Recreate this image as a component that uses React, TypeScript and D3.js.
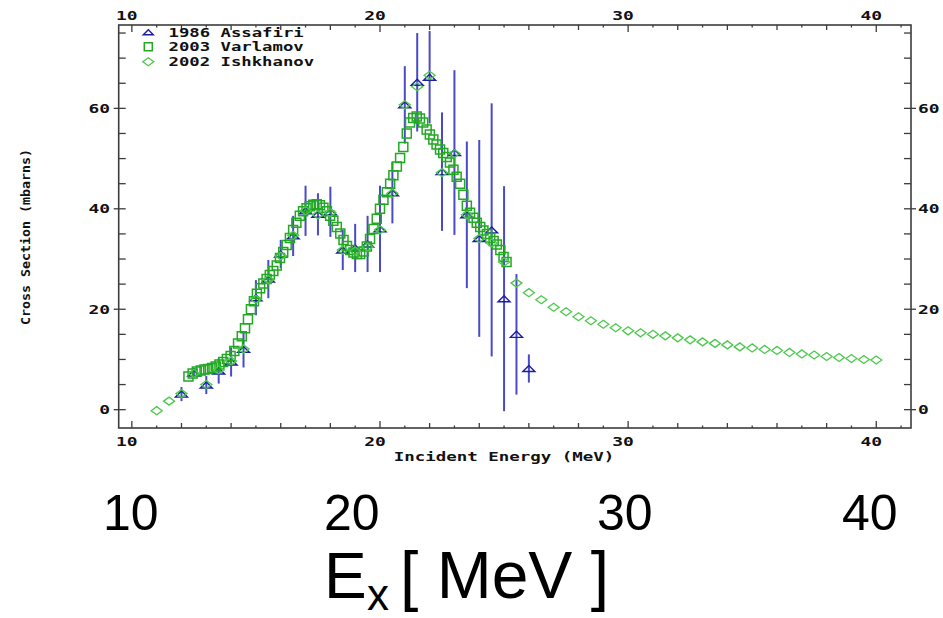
import React from "react";
import * as d3 from "d3";

// ---- data -------------------------------------------------------------
// 1986 Assafiri: energy (MeV), cross section (mb), symmetric error (mb)
const assafiriE = [12.0, 12.5, 13.0, 13.5, 14.0, 14.5, 15.0, 15.5, 16.0, 16.5, 17.0, 17.5, 18.0, 18.5, 19.0, 19.5, 20.0, 20.5, 21.0, 21.5, 22.0, 22.5, 23.0, 23.5, 24.0, 24.5, 25.0, 25.5, 26.0];
const assafiriXS = [3.1, 7.3, 4.9, 7.7, 9.5, 12.0, 22.3, 26.0, 31.0, 34.6, 39.6, 38.9, 39.4, 31.8, 32.2, 33.0, 36.0, 43.2, 60.7, 65.2, 66.2, 47.4, 51.2, 38.8, 34.1, 35.8, 22.1, 15.0, 8.2];
const assafiriErr = [1.4, 1.0, 1.8, 2.5, 2.9, 3.6, 3.5, 3.8, 2.8, 4.0, 5.0, 4.2, 5.0, 4.0, 4.8, 5.6, 8.6, 6.1, 7.7, 9.8, 9.2, 11.8, 16.4, 14.6, 19.6, 25.2, 22.4, 12.0, 2.8];

// 2003 Varlamov: [energy, cross section]
const varlamov: [number, number][] = [
  [12.28, 6.6], [12.45, 7.2], [12.62, 7.6], [12.78, 7.8], [12.93, 8.0], [13.08, 8.1],
  [13.23, 8.3], [13.38, 8.6], [13.53, 9.0], [13.68, 9.5], [13.83, 10.1], [13.98, 10.7],
  [14.13, 11.7], [14.28, 13.2], [14.43, 14.6], [14.56, 16.2], [14.68, 18.0], [14.8, 20.0],
  [14.92, 21.6], [15.04, 23.1], [15.17, 24.2], [15.3, 25.1], [15.43, 26.0], [15.56, 26.8],
  [15.7, 27.6], [15.84, 28.7], [15.97, 30.2], [16.1, 31.4], [16.24, 32.8], [16.37, 34.2],
  [16.5, 35.8], [16.63, 37.2], [16.77, 38.6], [16.9, 39.5], [17.04, 40.1], [17.17, 40.5],
  [17.31, 40.8], [17.45, 40.9], [17.58, 40.7], [17.72, 40.2], [17.86, 39.5], [17.99, 38.6],
  [18.12, 37.6], [18.26, 36.4], [18.4, 35.1], [18.53, 33.8], [18.67, 32.6], [18.8, 31.8],
  [18.93, 31.3], [19.07, 31.0], [19.2, 31.0], [19.34, 31.5], [19.47, 32.5], [19.6, 34.0],
  [19.74, 36.0], [19.87, 38.0], [20.0, 40.0], [20.14, 41.8], [20.28, 43.3], [20.41, 45.0],
  [20.54, 46.7], [20.68, 48.4], [20.81, 50.1], [20.94, 52.3], [21.08, 55.0], [21.21, 57.2],
  [21.34, 58.1], [21.48, 58.4], [21.61, 58.0], [21.74, 57.2], [21.88, 55.8], [22.01, 54.8],
  [22.15, 53.8], [22.28, 52.8], [22.42, 51.8], [22.55, 51.1], [22.69, 50.3], [22.82, 49.2],
  [22.96, 47.8], [23.09, 46.4], [23.23, 45.0], [23.36, 42.8], [23.5, 40.6], [23.63, 39.2],
  [23.77, 38.2], [23.9, 37.2], [24.04, 36.4], [24.17, 35.7], [24.31, 35.0], [24.44, 34.2],
  [24.58, 33.6], [24.71, 32.9], [24.85, 31.8], [24.98, 30.4], [25.1, 29.4],
];

// 2002 Ishkhanov
const ishkhanovE = [11.0, 11.5, 12.0, 12.5, 13.0, 13.5, 14.0, 14.5, 15.0, 15.5, 16.0, 16.5, 17.0, 17.5, 18.0, 18.5, 19.0, 19.5, 20.0, 20.5, 21.0, 21.5, 22.0, 22.5, 23.0, 23.5, 24.0, 24.5, 25.0, 25.5, 26.0, 26.5, 27.0, 27.5, 28.0, 28.5, 29.0, 29.5, 30.0, 30.5, 31.0, 31.5, 32.0, 32.5, 33.0, 33.5, 34.0, 34.5, 35.0, 35.5, 36.0, 36.5, 37.0, 37.5, 38.0, 38.5, 39.0, 39.5, 40.0];
const ishkhanovXS = [-0.2, 1.7, 3.2, 7.2, 5.0, 7.9, 9.7, 12.1, 22.0, 25.9, 30.6, 34.7, 39.6, 38.8, 39.2, 31.8, 31.6, 32.4, 35.8, 43.1, 60.7, 64.3, 66.6, 47.2, 51.0, 38.8, 34.1, 33.2, 29.4, 25.2, 23.3, 21.9, 20.4, 19.5, 18.5, 17.7, 17.0, 16.3, 15.7, 15.3, 15.0, 14.7, 14.3, 13.9, 13.5, 13.2, 12.9, 12.5, 12.3, 12.0, 11.8, 11.4, 11.1, 10.9, 10.6, 10.4, 10.2, 10.0, 9.9];

const xTickLabels = [10, 20, 30, 40];
const yTickLabels = [0, 20, 40, 60];
const legendLabels = ["1986 Assafiri", "2003 Varlamov", "2002 Ishkhanov"];
const slideTickLabels = ["10", "20", "30", "40"];

// ---- styling ----------------------------------------------------------
const BLUE_BAR = "#4a4ac8";
const BLUE_MARK = "#1c1ca6";
const GREEN_SQ = "#22a822";
const GREEN_DIA = "#4cc84c";
const AXIS = "#3c3c3c";
const MONO = "'DejaVu Sans Mono', 'Liberation Mono', monospace";
const SANS = "'Liberation Sans', Arial, Helvetica, sans-serif";

const triPath = (cx: number, cy: number, w = 12, h = 6) =>
  `M${cx - w / 2},${cy + h / 2}L${cx},${cy - h / 2}L${cx + w / 2},${cy + h / 2}Z`;
const sqPath = (cx: number, cy: number, s = 9) =>
  `M${cx - s / 2},${cy - s / 2}h${s}v${s}h${-s}Z`;
const diaPath = (cx: number, cy: number, w = 11, h = 8) =>
  `M${cx - w / 2},${cy}L${cx},${cy - h / 2}L${cx + w / 2},${cy}L${cx},${cy + h / 2}Z`;

// Wide pixel-style label text: glyphs stretched to a fixed per-character advance
function PixText(props: {
  x: number;
  y: number;
  text: string;
  anchor?: "start" | "middle" | "end";
  adv?: number;
  size?: number;
  transform?: string;
}) {
  const { x, y, text, anchor = "start", adv = 10.4, size = 12.5, transform } = props;
  return (
    <text
      x={x}
      y={y}
      dy="0.36em"
      textAnchor={anchor}
      fontFamily={MONO}
      fontWeight="bold"
      fontSize={size}
      fill="#111"
      textLength={text.length * adv}
      lengthAdjust="spacingAndGlyphs"
      transform={transform}
    >
      {text}
    </text>
  );
}

export default function App() {
  const W = 943;
  const H = 618;
  const frame = { left: 118.7, right: 911, top: 25, bottom: 428 };

  const x = d3.scaleLinear().domain([9.47, 41.4]).range([frame.left, frame.right]);
  const y = d3.scaleLinear().domain([-3.65, 76.6]).range([frame.bottom, frame.top]);

  const xTicks = d3.range(10, 42, 1);
  const yTicks = d3.range(0, 80, 5);

  const xTickLen = (v: number) => (v % 10 === 0 ? 7 : v % 2 === 0 ? 5 : 2.5);

  const assafiri = assafiriE.map((e, i) => ({ e, v: assafiriXS[i], err: assafiriErr[i] }));
  const ishkhanov = ishkhanovE.map((e, i) => ({ e, v: ishkhanovXS[i] }));

  const legendY = [32.3, 46.7, 61.7];
  const slideX = [103, 324, 597, 842];

  return (
    <svg
      width={W}
      height={H}
      viewBox={`0 0 ${W} ${H}`}
      style={{ position: "absolute", left: 0, top: 0, background: "#fff" }}
    >
      <rect x={0} y={0} width={W} height={H} fill="#fff" />

      {/* data: Assafiri error bars and triangles */}
      <g>
        {assafiri.map((d, i) => (
          <line
            key={`eb${i}`}
            x1={x(d.e)}
            x2={x(d.e)}
            y1={y(d.v - d.err)}
            y2={y(d.v + d.err)}
            stroke={BLUE_BAR}
            strokeWidth={2}
          />
        ))}
        {assafiri.map((d, i) => (
          <path key={`tr${i}`} d={triPath(x(d.e), y(d.v))} fill="none" stroke={BLUE_MARK} strokeWidth={1.4} />
        ))}
      </g>

      {/* data: Varlamov squares */}
      <g>
        {varlamov.map(([e, v], i) => (
          <path key={`sq${i}`} d={sqPath(x(e), y(v))} fill="none" stroke={GREEN_SQ} strokeWidth={1.5} />
        ))}
      </g>

      {/* data: Ishkhanov diamonds */}
      <g>
        {ishkhanov.map((d, i) => (
          <path key={`di${i}`} d={diaPath(x(d.e), y(d.v))} fill="none" stroke={GREEN_DIA} strokeWidth={1.3} />
        ))}
      </g>

      {/* frame */}
      <rect
        x={frame.left}
        y={frame.top}
        width={frame.right - frame.left}
        height={frame.bottom - frame.top}
        fill="none"
        stroke={AXIS}
        strokeWidth={1.6}
      />

      {/* x ticks, bottom and top, pointing inward */}
      {xTicks.map((v) => (
        <g key={`xt${v}`}>
          <line x1={x(v)} x2={x(v)} y1={frame.bottom} y2={frame.bottom - xTickLen(v)} stroke={AXIS} strokeWidth={1.3} />
          <line x1={x(v)} x2={x(v)} y1={frame.top} y2={frame.top + xTickLen(v)} stroke={AXIS} strokeWidth={1.3} />
        </g>
      ))}

      {/* y ticks, left and right */}
      {yTicks.map((v) => {
        const major = v % 20 === 0;
        return (
          <g key={`yt${v}`}>
            <line x1={frame.left - (major ? 5 : 0)} x2={frame.left + 7} y1={y(v)} y2={y(v)} stroke={AXIS} strokeWidth={1.3} />
            <line x1={frame.right + (major ? 5 : 0)} x2={frame.right - 7} y1={y(v)} y2={y(v)} stroke={AXIS} strokeWidth={1.3} />
          </g>
        );
      })}

      {/* tick labels */}
      {xTickLabels.map((v) => (
        <g key={`xl${v}`}>
          <PixText x={x(v) - 5} y={441} text={String(v)} anchor="middle" adv={10.8} />
          <PixText x={x(v) - 5} y={15.5} text={String(v)} anchor="middle" adv={10.8} />
        </g>
      ))}
      {yTickLabels.map((v) => (
        <g key={`yl${v}`}>
          <PixText x={110} y={y(v)} text={String(v)} anchor="end" adv={10.8} />
          <PixText x={918} y={y(v)} text={String(v)} anchor="start" adv={10.8} />
        </g>
      ))}

      {/* axis titles */}
      <PixText x={504} y={456} text="Incident Energy (MeV)" anchor="middle" adv={10.5} />
      <PixText
        x={25.5}
        y={237}
        text="Cross Section (mbarns)"
        anchor="middle"
        adv={8.0}
        size={11.5}
        transform="rotate(-90 25.5 237)"
      />

      {/* legend */}
      <path d={triPath(148.3, legendY[0], 10, 5)} fill="none" stroke={BLUE_MARK} strokeWidth={1.4} />
      <path d={sqPath(148.3, legendY[1], 8)} fill="none" stroke={GREEN_SQ} strokeWidth={1.5} />
      <path d={diaPath(148.3, legendY[2], 11, 8)} fill="none" stroke={GREEN_DIA} strokeWidth={1.3} />
      {legendLabels.map((t, i) => (
        <PixText key={t} x={168.5} y={legendY[i]} text={t} adv={10.4} />
      ))}

      {/* large energy scale below the chart */}
      {slideTickLabels.map((t, i) => (
        <text key={`big${t}`} x={slideX[i]} y={530} fontFamily={SANS} fontSize={50} fill="#000">
          {t}
        </text>
      ))}
      <text x={324} y={598} fontFamily={SANS} fontSize={64} fill="#000">E</text>
      <text x={367} y={610} fontFamily={SANS} fontSize={44} fill="#000">x</text>
      <text x={400} y={598} fontFamily={SANS} fontSize={66} fill="#000">[ MeV ]</text>
    </svg>
  );
}
